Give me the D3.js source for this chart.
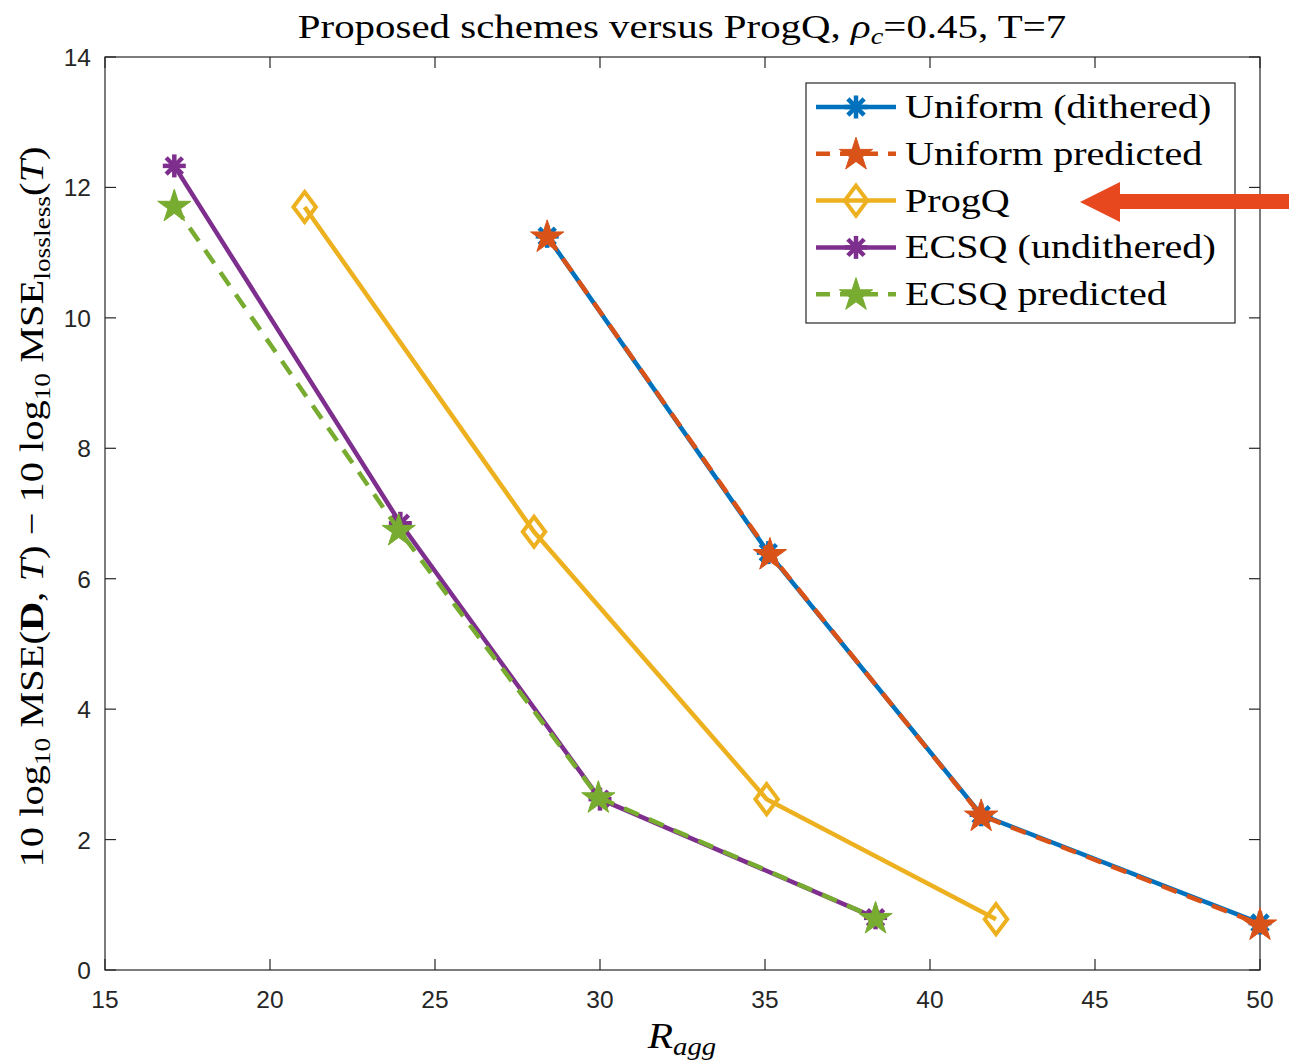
<!DOCTYPE html>
<html>
<head>
<meta charset="utf-8">
<script src="https://cdn.jsdelivr.net/npm/d3@7"></script>
<style>
body{margin:0;background:#fff;}
svg text{fill:#000;}
</style>
</head>
<body>
<div id="chart"></div>
<script>
// data
const uniformX = [28.4, 35.1, 41.55, 50];
const uniformY = [11.25, 6.4, 2.38, 0.72];
const uniformPredX = [28.4, 35.15, 41.55, 50];
const uniformPredY = [11.25, 6.38, 2.37, 0.7];
const progqX = [21.05, 28.0, 35.05, 42.0];
const progqY = [11.7, 6.72, 2.62, 0.78];
const ecsqX = [17.1, 23.95, 30.0, 38.35];
const ecsqY = [12.33, 6.85, 2.62, 0.8];
const ecsqPredX = [17.1, 23.9, 29.95, 38.35];
const ecsqPredY = [11.72, 6.75, 2.65, 0.8];
const xTicks = [15, 20, 25, 30, 35, 40, 45, 50];
const yTicks = [0, 2, 4, 6, 8, 10, 12, 14];

const W = 1289, H = 1061;
const pLeft = 105, pRight = 1260, pTop = 57, pBottom = 970;
const serif = 'Liberation Serif, Times New Roman, serif';
const sans = 'Liberation Sans, Arial, sans-serif';

const svg = d3.select('#chart').append('svg')
  .attr('width', W).attr('height', H);

const x = d3.scaleLinear().domain([15, 50]).range([pLeft, pRight]);
const y = d3.scaleLinear().domain([0, 14]).range([pBottom, pTop]);

const series = [
  {name:'Uniform (dithered)', xs:uniformX, ys:uniformY, color:'#0072BD', dash:null, marker:'ast'},
  {name:'Uniform predicted', xs:uniformPredX, ys:uniformPredY, color:'#D95319', dash:'16,11', marker:'star'},
  {name:'ProgQ', xs:progqX, ys:progqY, color:'#EDB120', dash:null, marker:'diamond'},
  {name:'ECSQ (undithered)', xs:ecsqX, ys:ecsqY, color:'#7E2F8E', dash:null, marker:'ast'},
  {name:'ECSQ predicted', xs:ecsqPredX, ys:ecsqPredY, color:'#77AC30', dash:'16,11', marker:'star'}
];

function starPath(R){
  const r = R*0.38;
  const pts = [];
  for(let i=0;i<10;i++){
    const a = -Math.PI/2 + i*Math.PI/5;
    const rr = i%2===0 ? R : r;
    pts.push([rr*Math.cos(a), rr*Math.sin(a)]);
  }
  return 'M' + pts.map(p=>p[0].toFixed(2)+','+p[1].toFixed(2)).join('L') + 'Z';
}

function drawMarker(g, m, cx, cy, color){
  if(m==='ast'){
    const R = 11.5;
    for(let i=0;i<4;i++){
      const a = i*Math.PI/4;
      g.append('line')
        .attr('x1', cx - R*Math.cos(a)).attr('y1', cy - R*Math.sin(a))
        .attr('x2', cx + R*Math.cos(a)).attr('y2', cy + R*Math.sin(a))
        .attr('stroke', color).attr('stroke-width', 4.5);
    }
  } else if(m==='star'){
    g.append('path').attr('d', starPath(17.5))
      .attr('transform', `translate(${cx},${cy + 1})`)
      .attr('fill', color).attr('stroke', color).attr('stroke-width', 1);
  } else {
    const s = 15;
    g.append('path').attr('d', `M0,${-s}L${s*0.75},0L0,${s}L${-s*0.75},0Z`)
      .attr('transform', `translate(${cx},${cy})`)
      .attr('fill', 'none').attr('stroke', color).attr('stroke-width', 4);
  }
}

// axes box
const axColor = '#262626';
svg.append('rect').attr('x', pLeft).attr('y', pTop)
  .attr('width', pRight-pLeft).attr('height', pBottom-pTop)
  .attr('fill', 'none').attr('stroke', axColor).attr('stroke-width', 1.2);

const tickLen = 11;
xTicks.forEach(t=>{
  svg.append('line').attr('x1', x(t)).attr('x2', x(t)).attr('y1', pBottom).attr('y2', pBottom - tickLen)
    .attr('stroke', axColor).attr('stroke-width', 1.2);
  svg.append('line').attr('x1', x(t)).attr('x2', x(t)).attr('y1', pTop).attr('y2', pTop + tickLen)
    .attr('stroke', axColor).attr('stroke-width', 1.2);
  svg.append('text').attr('x', x(t)).attr('y', pBottom + 38)
    .attr('text-anchor', 'middle')
    .style('font-family', sans).style('font-size', '24.5px')
    .style('fill', axColor).text(t);
});
yTicks.forEach(t=>{
  svg.append('line').attr('x1', pLeft).attr('x2', pLeft + tickLen).attr('y1', y(t)).attr('y2', y(t))
    .attr('stroke', axColor).attr('stroke-width', 1.2);
  svg.append('line').attr('x1', pRight).attr('x2', pRight - tickLen).attr('y1', y(t)).attr('y2', y(t))
    .attr('stroke', axColor).attr('stroke-width', 1.2);
  svg.append('text').attr('x', pLeft - 14).attr('y', y(t) + 9)
    .attr('text-anchor', 'end')
    .style('font-family', sans).style('font-size', '24.5px')
    .style('fill', axColor).text(t);
});

// series
const line = d3.line().x(d=>x(d[0])).y(d=>y(d[1]));
series.forEach(s=>{
  const pts = s.xs.map((v,i)=>[v, s.ys[i]]);
  const g = svg.append('g');
  g.append('path').attr('d', line(pts))
    .attr('fill', 'none').attr('stroke', s.color).attr('stroke-width', 4.5)
    .attr('stroke-dasharray', s.dash);
  pts.forEach(p=>drawMarker(g, s.marker, x(p[0]), y(p[1]), s.color));
});

// legend
const lg = svg.append('g');
lg.append('rect').attr('x', 806).attr('y', 83).attr('width', 429).attr('height', 240)
  .attr('fill', '#fff').attr('stroke', axColor).attr('stroke-width', 1.2);
series.forEach((s,i)=>{
  const ly = 107 + i*46.8;
  lg.append('line').attr('x1', 816).attr('x2', 896).attr('y1', ly).attr('y2', ly)
    .attr('stroke', s.color).attr('stroke-width', 4.5).attr('stroke-dasharray', s.dash ? '14,10' : null);
  drawMarker(lg, s.marker, 856, ly, s.color);
  lg.append('text').attr('transform', `translate(905,${ly + 11}) scale(1.18,1)`)
    .style('font-family', serif).style('font-size', '34px')
    .text(s.name);
});

// title
const title = svg.append('text').attr('transform', 'translate(682,38) scale(1.24,1)')
  .attr('text-anchor', 'middle')
  .style('font-family', serif).style('font-size', '33px');
title.append('tspan').text('Proposed schemes versus ProgQ, ');
title.append('tspan').style('font-style', 'italic').text('ρ');
title.append('tspan').style('font-style', 'italic').style('font-size', '23px').attr('dy', 6).text('c');
title.append('tspan').attr('dy', -6).text('=0.45, T=7');

// x label
const xl = svg.append('text').attr('transform', 'translate(682,1048) scale(1.15,1)')
  .attr('text-anchor', 'middle')
  .style('font-family', serif).style('font-size', '36px');
xl.append('tspan').style('font-style', 'italic').text('R');
xl.append('tspan').style('font-style', 'italic').style('font-size', '25px').attr('dy', 7).text('agg');

// y label
const yl = svg.append('text').attr('transform', 'translate(43,507) rotate(-90) scale(1.19,1)')
  .attr('text-anchor', 'middle')
  .style('font-family', serif).style('font-size', '34px');
yl.append('tspan').text('10 log');
yl.append('tspan').style('font-size', '23px').attr('dy', 7).text('10');
yl.append('tspan').attr('dy', -7).text(' MSE(');
yl.append('tspan').style('font-weight', 'bold').text('D');
yl.append('tspan').text(', ');
yl.append('tspan').style('font-style', 'italic').text('T');
yl.append('tspan').text(') − 10 log');
yl.append('tspan').style('font-size', '23px').attr('dy', 7).text('10');
yl.append('tspan').attr('dy', -7).text(' MSE');
yl.append('tspan').style('font-size', '23px').attr('dy', 7).text('lossless');
yl.append('tspan').attr('dy', -7).text('(');
yl.append('tspan').style('font-style', 'italic').text('T');
yl.append('tspan').text(')');

// annotation arrow
const arrowColor = '#E8481E';
svg.append('path')
  .attr('d', 'M1289,194 L1120,194 L1120,182 L1080,202 L1120,222 L1120,209 L1289,209 Z')
  .attr('fill', arrowColor);
</script>
</body>
</html>
